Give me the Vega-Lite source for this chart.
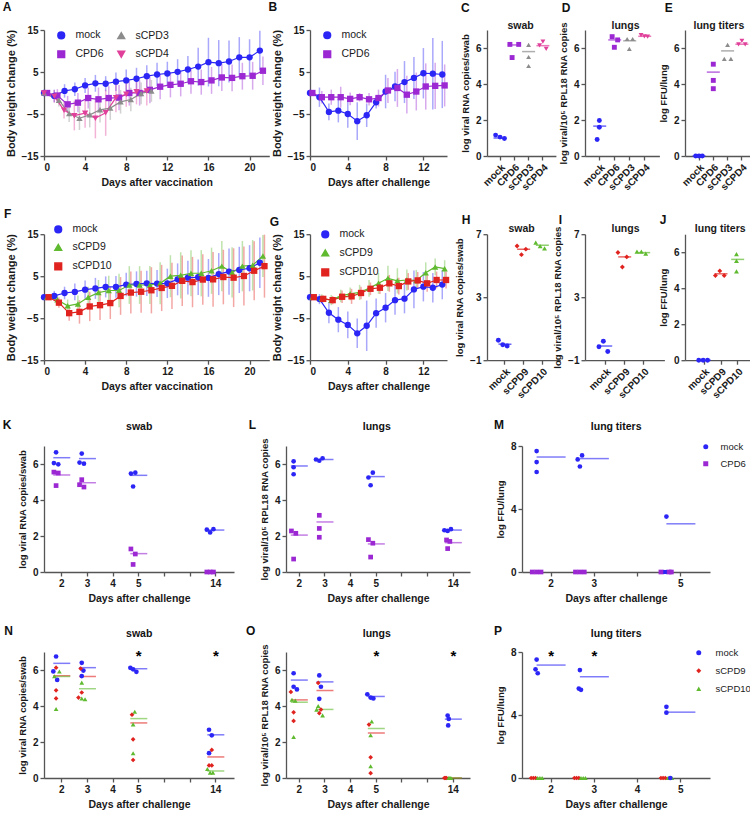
{
"$schema":"https://vega.github.io/schema/vega-lite/v6.json",
"background":"white",
"padding":{"left":2,"top":0,"right":0,"bottom":0},
"config":{
 "font":"Liberation Sans",
 "view":{"stroke":null},
 "axis":{"labelFont":"Liberation Sans","labelFontSize":10,"labelFontWeight":"bold","labelColor":"#1a1a1a","labelOverlap":false,"titleFont":"Liberation Sans","titleFontSize":10.5,"titleFontWeight":"bold","titleColor":"#1a1a1a","domainColor":"#555","domainWidth":1.3,"tickColor":"#555","tickWidth":1.3,"tickSize":4,"grid":false,"labelPadding":2,"titlePadding":5},
 "axisX":{"labelOverlap":false},
 "axisY":{"titleFontSize":9.5,"labelOverlap":false},
 "legend":{"labelFont":"Liberation Sans","labelFontSize":10.5,"labelColor":"#1a1a1a","symbolOpacity":1},
 "title":{"font":"Liberation Sans","fontWeight":"bold","color":"#111","offset":0,"baseline":"alphabetic","fontSize":12,"anchor":"start","frame":"group"}
},
"datasets":{
"ts":[
{"p":"A","g":"mock","d":0,"m":0,"s":0},{"p":"A","g":"mock","d":1,"m":-0.7,"s":1.5},{"p":"A","g":"mock","d":2,"m":0.5,"s":1.6},{"p":"A","g":"mock","d":3,"m":0.9,"s":1.6},{"p":"A","g":"mock","d":4,"m":1.8,"s":1.8},{"p":"A","g":"mock","d":5,"m":2.3,"s":2.0},{"p":"A","g":"mock","d":6,"m":2.2,"s":1.8},{"p":"A","g":"mock","d":7,"m":2.7,"s":2.2},{"p":"A","g":"mock","d":8,"m":3.0,"s":2.6},{"p":"A","g":"mock","d":9,"m":3.4,"s":2.6},{"p":"A","g":"mock","d":10,"m":4.0,"s":2.6},{"p":"A","g":"mock","d":11,"m":4.4,"s":2.8},{"p":"A","g":"mock","d":12,"m":4.65,"s":2.8},{"p":"A","g":"mock","d":13,"m":5.05,"s":3.0},{"p":"A","g":"mock","d":14,"m":5.6,"s":3.2},{"p":"A","g":"mock","d":15,"m":6.3,"s":4.5},{"p":"A","g":"mock","d":16,"m":7.35,"s":5.8},{"p":"A","g":"mock","d":17,"m":7.1,"s":5.5},{"p":"A","g":"mock","d":18,"m":7.5,"s":5.0},{"p":"A","g":"mock","d":19,"m":8.5,"s":4.8},{"p":"A","g":"mock","d":20,"m":8.5,"s":4.3},{"p":"A","g":"mock","d":21,"m":10.1,"s":4.7},
{"p":"A","g":"CPD6","d":0.3,"m":0,"s":0},{"p":"A","g":"CPD6","d":1.3,"m":-0.6,"s":1.5},{"p":"A","g":"CPD6","d":2.3,"m":-2.7,"s":2.0},{"p":"A","g":"CPD6","d":3.3,"m":-2.3,"s":2.3},{"p":"A","g":"CPD6","d":4.3,"m":-1.2,"s":2.5},{"p":"A","g":"CPD6","d":5.3,"m":-1.5,"s":2.8},{"p":"A","g":"CPD6","d":6.3,"m":-1.2,"s":2.8},{"p":"A","g":"CPD6","d":7.3,"m":-1.1,"s":3.0},{"p":"A","g":"CPD6","d":8.3,"m":0,"s":3.0},{"p":"A","g":"CPD6","d":9.3,"m":0,"s":3.0},{"p":"A","g":"CPD6","d":10.3,"m":0.75,"s":3.2},{"p":"A","g":"CPD6","d":11.3,"m":1.5,"s":3.0},{"p":"A","g":"CPD6","d":12.3,"m":1.95,"s":3.0},{"p":"A","g":"CPD6","d":13.3,"m":2.2,"s":3.0},{"p":"A","g":"CPD6","d":14.3,"m":2.8,"s":3.0},{"p":"A","g":"CPD6","d":15.3,"m":2.6,"s":3.0},{"p":"A","g":"CPD6","d":16.3,"m":3.0,"s":3.2},{"p":"A","g":"CPD6","d":17.3,"m":3.7,"s":3.2},{"p":"A","g":"CPD6","d":18.3,"m":3.6,"s":3.2},{"p":"A","g":"CPD6","d":19.3,"m":4.0,"s":3.2},{"p":"A","g":"CPD6","d":20.3,"m":4.1,"s":3.3},{"p":"A","g":"CPD6","d":21.3,"m":5.3,"s":3.4},
{"p":"A","g":"sCPD3","d":0,"m":0,"s":0},{"p":"A","g":"sCPD3","d":1.45,"m":-1.7,"s":1.5},{"p":"A","g":"sCPD3","d":2.45,"m":-4.9,"s":2.0},{"p":"A","g":"sCPD3","d":3.45,"m":-6.0,"s":2.8},{"p":"A","g":"sCPD3","d":4.45,"m":-5.2,"s":3.0},{"p":"A","g":"sCPD3","d":5.45,"m":-4.0,"s":3.0},{"p":"A","g":"sCPD3","d":6.45,"m":-3.6,"s":2.8},{"p":"A","g":"sCPD3","d":7.45,"m":-2.1,"s":2.8},{"p":"A","g":"sCPD3","d":8.45,"m":-1.55,"s":2.8},{"p":"A","g":"sCPD3","d":9.45,"m":-0.1,"s":2.6},{"p":"A","g":"sCPD3","d":10.45,"m":0.5,"s":2.6},
{"p":"A","g":"sCPD4","d":0,"m":0,"s":0},{"p":"A","g":"sCPD4","d":1,"m":-0.8,"s":1.5},{"p":"A","g":"sCPD4","d":1.95,"m":-4.1,"s":2.0},{"p":"A","g":"sCPD4","d":2.95,"m":-5.4,"s":3.5},{"p":"A","g":"sCPD4","d":4,"m":-4.8,"s":3.5},{"p":"A","g":"sCPD4","d":5,"m":-6.0,"s":4.8},{"p":"A","g":"sCPD4","d":6,"m":-4.7,"s":5.5},{"p":"A","g":"sCPD4","d":7,"m":-1.1,"s":3.5},{"p":"A","g":"sCPD4","d":8,"m":-0.3,"s":3.0},{"p":"A","g":"sCPD4","d":9,"m":0.3,"s":3.0},{"p":"A","g":"sCPD4","d":10,"m":0.5,"s":3.5},
{"p":"B","g":"mock","d":0,"m":0,"s":0},{"p":"B","g":"mock","d":1,"m":-1.0,"s":2.3},{"p":"B","g":"mock","d":2,"m":-4.5,"s":2.0},{"p":"B","g":"mock","d":3,"m":-4.2,"s":2.8},{"p":"B","g":"mock","d":4,"m":-5.0,"s":3.3},{"p":"B","g":"mock","d":5,"m":-6.7,"s":4.5},{"p":"B","g":"mock","d":6,"m":-5.3,"s":2.8},{"p":"B","g":"mock","d":7,"m":-2.2,"s":1.5},{"p":"B","g":"mock","d":8,"m":0.35,"s":4.0},{"p":"B","g":"mock","d":9,"m":1.55,"s":3.5},{"p":"B","g":"mock","d":10,"m":2.6,"s":5.0},{"p":"B","g":"mock","d":11,"m":3.6,"s":5.0},{"p":"B","g":"mock","d":12,"m":4.7,"s":6.0},{"p":"B","g":"mock","d":13,"m":4.6,"s":8.5},{"p":"B","g":"mock","d":14,"m":4.4,"s":8.0},
{"p":"B","g":"CPD6","d":0.25,"m":0,"s":0},{"p":"B","g":"CPD6","d":1.25,"m":-1.0,"s":1.5},{"p":"B","g":"CPD6","d":2.25,"m":-1.0,"s":1.8},{"p":"B","g":"CPD6","d":3.25,"m":-1.0,"s":2.5},{"p":"B","g":"CPD6","d":4.25,"m":-1.4,"s":1.5},{"p":"B","g":"CPD6","d":5.25,"m":-1.0,"s":1.0},{"p":"B","g":"CPD6","d":6.25,"m":-1.5,"s":1.5},{"p":"B","g":"CPD6","d":7.25,"m":-1.2,"s":2.0},{"p":"B","g":"CPD6","d":8.25,"m":0.6,"s":3.0},{"p":"B","g":"CPD6","d":9.25,"m":1.2,"s":4.5},{"p":"B","g":"CPD6","d":10.25,"m":-0.4,"s":4.5},{"p":"B","g":"CPD6","d":11.25,"m":0.35,"s":4.5},{"p":"B","g":"CPD6","d":12.25,"m":1.55,"s":5.5},{"p":"B","g":"CPD6","d":13.25,"m":1.7,"s":5.5},{"p":"B","g":"CPD6","d":14.25,"m":1.8,"s":5.0},
{"p":"F","g":"mock","d":0,"m":0,"s":0},{"p":"F","g":"mock","d":1,"m":0.3,"s":1.2},{"p":"F","g":"mock","d":2,"m":1.0,"s":1.5},{"p":"F","g":"mock","d":3,"m":1.25,"s":2.0},{"p":"F","g":"mock","d":4,"m":1.8,"s":2.2},{"p":"F","g":"mock","d":5,"m":2.1,"s":2.5},{"p":"F","g":"mock","d":6,"m":2.45,"s":2.5},{"p":"F","g":"mock","d":7,"m":2.45,"s":2.6},{"p":"F","g":"mock","d":8,"m":3.0,"s":2.8},{"p":"F","g":"mock","d":9,"m":3.15,"s":3.0},{"p":"F","g":"mock","d":10,"m":3.3,"s":3.0},{"p":"F","g":"mock","d":11,"m":3.25,"s":3.2},{"p":"F","g":"mock","d":12,"m":3.3,"s":3.5},{"p":"F","g":"mock","d":13,"m":4.25,"s":3.8},{"p":"F","g":"mock","d":14,"m":4.65,"s":4.0},{"p":"F","g":"mock","d":15,"m":4.75,"s":4.2},{"p":"F","g":"mock","d":16,"m":4.6,"s":4.5},{"p":"F","g":"mock","d":17,"m":5.5,"s":5.0},{"p":"F","g":"mock","d":18,"m":6.1,"s":5.5},{"p":"F","g":"mock","d":19,"m":6.5,"s":5.5},{"p":"F","g":"mock","d":20,"m":6.9,"s":5.5},{"p":"F","g":"mock","d":21,"m":8.2,"s":6.0},
{"p":"F","g":"sCPD9","d":0.3,"m":0,"s":0},{"p":"F","g":"sCPD9","d":1.3,"m":-0.6,"s":1.0},{"p":"F","g":"sCPD9","d":2.3,"m":-2.05,"s":1.5},{"p":"F","g":"sCPD9","d":3.3,"m":-1.6,"s":2.0},{"p":"F","g":"sCPD9","d":4.3,"m":0,"s":2.5},{"p":"F","g":"sCPD9","d":5.3,"m":1.1,"s":3.0},{"p":"F","g":"sCPD9","d":6.3,"m":1.6,"s":3.5},{"p":"F","g":"sCPD9","d":7.3,"m":1.6,"s":4.0},{"p":"F","g":"sCPD9","d":8.3,"m":2.9,"s":4.5},{"p":"F","g":"sCPD9","d":9.3,"m":2.9,"s":4.5},{"p":"F","g":"sCPD9","d":10.3,"m":2.9,"s":4.5},{"p":"F","g":"sCPD9","d":11.3,"m":3.3,"s":5.0},{"p":"F","g":"sCPD9","d":12.3,"m":5.0,"s":5.0},{"p":"F","g":"sCPD9","d":13.3,"m":5.2,"s":5.5},{"p":"F","g":"sCPD9","d":14.3,"m":5.7,"s":5.5},{"p":"F","g":"sCPD9","d":15.3,"m":5.7,"s":5.5},{"p":"F","g":"sCPD9","d":16.3,"m":6.3,"s":5.5},{"p":"F","g":"sCPD9","d":17.3,"m":7.4,"s":6.0},{"p":"F","g":"sCPD9","d":18.3,"m":5.9,"s":6.0},{"p":"F","g":"sCPD9","d":19.3,"m":7.4,"s":6.0},{"p":"F","g":"sCPD9","d":20.3,"m":7.6,"s":6.0},{"p":"F","g":"sCPD9","d":21.3,"m":9.8,"s":5.0},
{"p":"F","g":"sCPD10","d":0.45,"m":0,"s":0},{"p":"F","g":"sCPD10","d":1.45,"m":-1.3,"s":1.2},{"p":"F","g":"sCPD10","d":2.45,"m":-3.8,"s":1.8},{"p":"F","g":"sCPD10","d":3.45,"m":-3.5,"s":2.8},{"p":"F","g":"sCPD10","d":4.45,"m":-2.2,"s":3.5},{"p":"F","g":"sCPD10","d":5.45,"m":-1.9,"s":3.5},{"p":"F","g":"sCPD10","d":6.45,"m":-1.4,"s":3.8},{"p":"F","g":"sCPD10","d":7.45,"m":0.3,"s":4.5},{"p":"F","g":"sCPD10","d":8.45,"m":1.1,"s":5.0},{"p":"F","g":"sCPD10","d":9.45,"m":1.3,"s":5.0},{"p":"F","g":"sCPD10","d":10.45,"m":1.65,"s":5.5},{"p":"F","g":"sCPD10","d":11.45,"m":2.2,"s":5.5},{"p":"F","g":"sCPD10","d":12.45,"m":2.7,"s":5.5},{"p":"F","g":"sCPD10","d":13.45,"m":3.9,"s":6.0},{"p":"F","g":"sCPD10","d":14.45,"m":3.6,"s":6.0},{"p":"F","g":"sCPD10","d":15.45,"m":4.2,"s":6.0},{"p":"F","g":"sCPD10","d":16.45,"m":4.25,"s":6.5},{"p":"F","g":"sCPD10","d":17.45,"m":4.8,"s":6.5},{"p":"F","g":"sCPD10","d":18.45,"m":4.65,"s":7.0},{"p":"F","g":"sCPD10","d":19.45,"m":5.05,"s":7.0},{"p":"F","g":"sCPD10","d":20.45,"m":6.3,"s":7.0},{"p":"F","g":"sCPD10","d":21.45,"m":7.4,"s":7.5},
{"p":"G","g":"mock","d":0,"m":0,"s":0},{"p":"G","g":"mock","d":1,"m":-0.45,"s":1.2},{"p":"G","g":"mock","d":2,"m":-3.7,"s":2.5},{"p":"G","g":"mock","d":3,"m":-5.35,"s":3.0},{"p":"G","g":"mock","d":4,"m":-6.6,"s":3.2},{"p":"G","g":"mock","d":5,"m":-8.6,"s":3.5},{"p":"G","g":"mock","d":6,"m":-6.8,"s":6.0},{"p":"G","g":"mock","d":7,"m":-3.8,"s":3.5},{"p":"G","g":"mock","d":8,"m":-2.5,"s":3.5},{"p":"G","g":"mock","d":9,"m":-0.7,"s":3.5},{"p":"G","g":"mock","d":10,"m":-0.35,"s":3.5},{"p":"G","g":"mock","d":11,"m":1.85,"s":4.5},{"p":"G","g":"mock","d":12,"m":2.5,"s":3.5},{"p":"G","g":"mock","d":13,"m":2.25,"s":3.5},{"p":"G","g":"mock","d":14,"m":3.0,"s":3.5},
{"p":"G","g":"sCPD9","d":0.25,"m":0,"s":0},{"p":"G","g":"sCPD9","d":1.25,"m":-0.3,"s":1.0},{"p":"G","g":"sCPD9","d":2.25,"m":-0.7,"s":1.2},{"p":"G","g":"sCPD9","d":3.25,"m":0.3,"s":1.5},{"p":"G","g":"sCPD9","d":4.25,"m":0.8,"s":1.5},{"p":"G","g":"sCPD9","d":5.25,"m":1.15,"s":1.8},{"p":"G","g":"sCPD9","d":6.25,"m":2.1,"s":2.0},{"p":"G","g":"sCPD9","d":7.25,"m":3.3,"s":2.5},{"p":"G","g":"sCPD9","d":8.25,"m":4.5,"s":3.0},{"p":"G","g":"sCPD9","d":9.25,"m":3.9,"s":3.0},{"p":"G","g":"sCPD9","d":10.25,"m":4.1,"s":2.5},{"p":"G","g":"sCPD9","d":11.25,"m":4.0,"s":2.5},{"p":"G","g":"sCPD9","d":12.25,"m":5.8,"s":2.5},{"p":"G","g":"sCPD9","d":13.25,"m":7.2,"s":2.0},{"p":"G","g":"sCPD9","d":14.25,"m":6.8,"s":2.0},
{"p":"G","g":"sCPD10","d":0.4,"m":0,"s":0},{"p":"G","g":"sCPD10","d":1.4,"m":-0.4,"s":0.8},{"p":"G","g":"sCPD10","d":2.4,"m":-0.7,"s":1.0},{"p":"G","g":"sCPD10","d":3.4,"m":0.1,"s":1.5},{"p":"G","g":"sCPD10","d":4.4,"m":0.2,"s":1.8},{"p":"G","g":"sCPD10","d":5.4,"m":1.0,"s":1.5},{"p":"G","g":"sCPD10","d":6.4,"m":2.0,"s":1.5},{"p":"G","g":"sCPD10","d":7.4,"m":2.25,"s":1.5},{"p":"G","g":"sCPD10","d":8.4,"m":3.3,"s":2.0},{"p":"G","g":"sCPD10","d":9.4,"m":2.65,"s":2.0},{"p":"G","g":"sCPD10","d":10.4,"m":3.75,"s":2.0},{"p":"G","g":"sCPD10","d":11.4,"m":4.0,"s":2.0},{"p":"G","g":"sCPD10","d":12.4,"m":3.3,"s":2.0},{"p":"G","g":"sCPD10","d":13.4,"m":4.1,"s":2.0},{"p":"G","g":"sCPD10","d":14.4,"m":4.1,"s":2.0}
],
"pts":[
{"p":"C","c":"mock","g":"mock","r":-8,"v":1.16},{"p":"C","c":"mock","g":"mock","r":0,"v":1.05},{"p":"C","c":"mock","g":"mock","r":8,"v":0.97},
{"p":"C","c":"CPD6","g":"CPD6","r":-8,"v":6.2},{"p":"C","c":"CPD6","g":"CPD6","r":8,"v":6.2},{"p":"C","c":"CPD6","g":"CPD6","r":-4,"v":5.47},
{"p":"C","c":"sCPD3","g":"sCPD3","r":0,"v":6.17},{"p":"C","c":"sCPD3","g":"sCPD3","r":0,"v":5.5},{"p":"C","c":"sCPD3","g":"sCPD3","r":0,"v":5.0},
{"p":"C","c":"sCPD4","g":"sCPD4","r":0,"v":6.35},{"p":"C","c":"sCPD4","g":"sCPD4","r":-6,"v":6.15},{"p":"C","c":"sCPD4","g":"sCPD4","r":6,"v":5.95},
{"p":"D","c":"mock","g":"mock","r":0,"v":1.97},{"p":"D","c":"mock","g":"mock","r":0,"v":1.6},{"p":"D","c":"mock","g":"mock","r":-4,"v":0.92},
{"p":"D","c":"CPD6","g":"CPD6","r":-4,"v":6.63},{"p":"D","c":"CPD6","g":"CPD6","r":0,"v":6.04},{"p":"D","c":"CPD6","g":"CPD6","r":6,"v":6.45},
{"p":"D","c":"sCPD3","g":"sCPD3","r":-4,"v":6.5},{"p":"D","c":"sCPD3","g":"sCPD3","r":6,"v":6.5},{"p":"D","c":"sCPD3","g":"sCPD3","r":0,"v":5.95},
{"p":"D","c":"sCPD4","g":"sCPD4","r":-6,"v":6.72},{"p":"D","c":"sCPD4","g":"sCPD4","r":0,"v":6.65},{"p":"D","c":"sCPD4","g":"sCPD4","r":6,"v":6.63},
{"p":"E","c":"mock","g":"mock","r":-6,"v":0},{"p":"E","c":"mock","g":"mock","r":0,"v":0},{"p":"E","c":"mock","g":"mock","r":6,"v":0},
{"p":"E","c":"CPD6","g":"CPD6","r":0,"v":5.1},{"p":"E","c":"CPD6","g":"CPD6","r":0,"v":4.2},{"p":"E","c":"CPD6","g":"CPD6","r":0,"v":3.74},
{"p":"E","c":"sCPD3","g":"sCPD3","r":0,"v":6.17},{"p":"E","c":"sCPD3","g":"sCPD3","r":-6,"v":5.4},{"p":"E","c":"sCPD3","g":"sCPD3","r":6,"v":5.4},
{"p":"E","c":"sCPD4","g":"sCPD4","r":0,"v":6.4},{"p":"E","c":"sCPD4","g":"sCPD4","r":-6,"v":6.2},{"p":"E","c":"sCPD4","g":"sCPD4","r":6,"v":6.2},
{"p":"H","c":"mock","g":"mock","r":-8,"v":0.27},{"p":"H","c":"mock","g":"mock","r":0,"v":-0.02},{"p":"H","c":"mock","g":"mock","r":8,"v":-0.1},
{"p":"H","c":"sCPD9","g":"sCPD9","r":-8,"v":6.25},{"p":"H","c":"sCPD9","g":"sCPD9","r":0,"v":5.7},{"p":"H","c":"sCPD9","g":"sCPD9","r":8,"v":6.05},
{"p":"H","c":"sCPD10","g":"sCPD10","r":-8,"v":6.47},{"p":"H","c":"sCPD10","g":"sCPD10","r":0,"v":6.25},{"p":"H","c":"sCPD10","g":"sCPD10","r":8,"v":6.1},
{"p":"I","c":"mock","g":"mock","r":-8,"v":-0.15},{"p":"I","c":"mock","g":"mock","r":0,"v":0.2},{"p":"I","c":"mock","g":"mock","r":8,"v":-0.45},
{"p":"I","c":"sCPD9","g":"sCPD9","r":-8,"v":5.84},{"p":"I","c":"sCPD9","g":"sCPD9","r":0,"v":4.92},{"p":"I","c":"sCPD9","g":"sCPD9","r":8,"v":5.56},
{"p":"I","c":"sCPD10","g":"sCPD10","r":-8,"v":5.9},{"p":"I","c":"sCPD10","g":"sCPD10","r":0,"v":5.9},{"p":"I","c":"sCPD10","g":"sCPD10","r":8,"v":5.77},
{"p":"J","c":"mock","g":"mock","r":-8,"v":0},{"p":"J","c":"mock","g":"mock","r":0,"v":0},{"p":"J","c":"mock","g":"mock","r":8,"v":0},
{"p":"J","c":"sCPD9","g":"sCPD9","r":0,"v":4.96},{"p":"J","c":"sCPD9","g":"sCPD9","r":-8,"v":4.7},{"p":"J","c":"sCPD9","g":"sCPD9","r":8,"v":4.7},
{"p":"J","c":"sCPD10","g":"sCPD10","r":0,"v":5.89},{"p":"J","c":"sCPD10","g":"sCPD10","r":0,"v":5.52},{"p":"J","c":"sCPD10","g":"sCPD10","r":0,"v":4.93},
{"p":"K","c":"2","g":"mock","r":0,"v":6.65},{"p":"K","c":"2","g":"mock","r":-4,"v":6.05},{"p":"K","c":"2","g":"mock","r":4,"v":5.98},
{"p":"K","c":"2","g":"CPD6","r":-4,"v":5.55},{"p":"K","c":"2","g":"CPD6","r":4,"v":5.5},{"p":"K","c":"2","g":"CPD6","r":0,"v":4.8},
{"p":"K","c":"3","g":"mock","r":0,"v":6.58},{"p":"K","c":"3","g":"mock","r":-4,"v":6.08},{"p":"K","c":"3","g":"mock","r":4,"v":6.02},
{"p":"K","c":"3","g":"CPD6","r":0,"v":5.13},{"p":"K","c":"3","g":"CPD6","r":-4,"v":4.85},{"p":"K","c":"3","g":"CPD6","r":4,"v":4.72},
{"p":"K","c":"5","g":"mock","r":-4,"v":5.47},{"p":"K","c":"5","g":"mock","r":4,"v":5.52},{"p":"K","c":"5","g":"mock","r":0,"v":4.75},
{"p":"K","c":"5","g":"CPD6","r":-4,"v":1.28},{"p":"K","c":"5","g":"CPD6","r":4,"v":1.0},{"p":"K","c":"5","g":"CPD6","r":0,"v":0.42},
{"p":"K","c":"14","g":"mock","r":-6,"v":2.35},{"p":"K","c":"14","g":"mock","r":0,"v":2.2},{"p":"K","c":"14","g":"mock","r":6,"v":2.38},
{"p":"K","c":"14","g":"CPD6","r":-6,"v":0},{"p":"K","c":"14","g":"CPD6","r":0,"v":0},{"p":"K","c":"14","g":"CPD6","r":6,"v":0},
{"p":"L","c":"2","g":"mock","r":0,"v":6.15},{"p":"L","c":"2","g":"mock","r":0,"v":5.82},{"p":"L","c":"2","g":"mock","r":0,"v":5.43},
{"p":"L","c":"2","g":"CPD6","r":-4,"v":2.28},{"p":"L","c":"2","g":"CPD6","r":4,"v":2.15},{"p":"L","c":"2","g":"CPD6","r":0,"v":0.72},
{"p":"L","c":"3","g":"mock","r":-6,"v":6.25},{"p":"L","c":"3","g":"mock","r":0,"v":6.18},{"p":"L","c":"3","g":"mock","r":6,"v":6.32},
{"p":"L","c":"3","g":"CPD6","r":0,"v":3.15},{"p":"L","c":"3","g":"CPD6","r":0,"v":2.42},{"p":"L","c":"3","g":"CPD6","r":0,"v":1.93},
{"p":"L","c":"5","g":"mock","r":-4,"v":5.25},{"p":"L","c":"5","g":"mock","r":4,"v":5.52},{"p":"L","c":"5","g":"mock","r":0,"v":4.82},
{"p":"L","c":"5","g":"CPD6","r":-4,"v":1.8},{"p":"L","c":"5","g":"CPD6","r":4,"v":1.6},{"p":"L","c":"5","g":"CPD6","r":0,"v":0.83},
{"p":"L","c":"14","g":"mock","r":-6,"v":2.32},{"p":"L","c":"14","g":"mock","r":0,"v":2.28},{"p":"L","c":"14","g":"mock","r":6,"v":2.38},
{"p":"L","c":"14","g":"CPD6","r":-2,"v":1.78},{"p":"L","c":"14","g":"CPD6","r":4,"v":1.7},{"p":"L","c":"14","g":"CPD6","r":0,"v":1.3},
{"p":"M","c":"2","g":"mock","r":0,"v":7.68},{"p":"M","c":"2","g":"mock","r":0,"v":6.98},{"p":"M","c":"2","g":"mock","r":0,"v":6.35},
{"p":"M","c":"2","g":"CPD6","r":-8,"v":0},{"p":"M","c":"2","g":"CPD6","r":0,"v":0},{"p":"M","c":"2","g":"CPD6","r":8,"v":0},
{"p":"M","c":"3","g":"mock","r":-4,"v":7.15},{"p":"M","c":"3","g":"mock","r":0,"v":6.7},{"p":"M","c":"3","g":"mock","r":4,"v":7.4},
{"p":"M","c":"3","g":"CPD6","r":-8,"v":0},{"p":"M","c":"3","g":"CPD6","r":0,"v":0},{"p":"M","c":"3","g":"CPD6","r":8,"v":0},
{"p":"M","c":"5","g":"mock","r":0,"v":3.52},{"p":"M","c":"5","g":"mock","r":-5,"v":0},{"p":"M","c":"5","g":"mock","r":0,"v":0},
{"p":"M","c":"5","g":"CPD6","r":-10,"v":0},{"p":"M","c":"5","g":"CPD6","r":5,"v":0},{"p":"M","c":"5","g":"CPD6","r":9,"v":0},
{"p":"N","c":"2","g":"mock","r":0,"v":6.75},{"p":"N","c":"2","g":"mock","r":-5,"v":5.92},{"p":"N","c":"2","g":"mock","r":2,"v":5.45},
{"p":"N","c":"2","g":"sCPD9","r":0,"v":6.13},{"p":"N","c":"2","g":"sCPD9","r":0,"v":4.87},{"p":"N","c":"2","g":"sCPD9","r":0,"v":4.42},
{"p":"N","c":"2","g":"sCPD10","r":6,"v":5.92},{"p":"N","c":"2","g":"sCPD10","r":-3,"v":5.65},{"p":"N","c":"2","g":"sCPD10","r":0,"v":3.83},
{"p":"N","c":"3","g":"mock","r":0,"v":6.4},{"p":"N","c":"3","g":"mock","r":3,"v":5.97},{"p":"N","c":"3","g":"mock","r":0,"v":5.66},
{"p":"N","c":"3","g":"sCPD9","r":-2,"v":6.08},{"p":"N","c":"3","g":"sCPD9","r":0,"v":4.75},{"p":"N","c":"3","g":"sCPD9","r":-6,"v":4.47},
{"p":"N","c":"3","g":"sCPD10","r":0,"v":5.3},{"p":"N","c":"3","g":"sCPD10","r":0,"v":4.42},{"p":"N","c":"3","g":"sCPD10","r":6,"v":4.37},
{"p":"N","c":"5","g":"mock","r":-5,"v":6.12},{"p":"N","c":"5","g":"mock","r":0,"v":6.04},{"p":"N","c":"5","g":"mock","r":6,"v":5.9},
{"p":"N","c":"5","g":"sCPD9","r":-2,"v":3.52},{"p":"N","c":"5","g":"sCPD9","r":0,"v":2.15},{"p":"N","c":"5","g":"sCPD9","r":0,"v":1.0},
{"p":"N","c":"5","g":"sCPD10","r":3,"v":3.68},{"p":"N","c":"5","g":"sCPD10","r":0,"v":2.98},{"p":"N","c":"5","g":"sCPD10","r":0,"v":1.37},
{"p":"N","c":"14","g":"mock","r":-2,"v":2.68},{"p":"N","c":"14","g":"mock","r":3,"v":2.37},{"p":"N","c":"14","g":"mock","r":-2,"v":1.38},
{"p":"N","c":"14","g":"sCPD9","r":3,"v":1.56},{"p":"N","c":"14","g":"sCPD9","r":-2,"v":0.7},{"p":"N","c":"14","g":"sCPD9","r":3,"v":0.7},
{"p":"N","c":"14","g":"sCPD10","r":-5,"v":0.5},{"p":"N","c":"14","g":"sCPD10","r":0,"v":0.3},{"p":"N","c":"14","g":"sCPD10","r":5,"v":0.3},
{"p":"O","c":"2","g":"mock","r":0,"v":5.82},{"p":"O","c":"2","g":"mock","r":0,"v":5.07},{"p":"O","c":"2","g":"mock","r":6,"v":4.92},
{"p":"O","c":"2","g":"sCPD9","r":-5,"v":4.78},{"p":"O","c":"2","g":"sCPD9","r":0,"v":3.65},{"p":"O","c":"2","g":"sCPD9","r":0,"v":3.17},
{"p":"O","c":"2","g":"sCPD10","r":-3,"v":4.35},{"p":"O","c":"2","g":"sCPD10","r":3,"v":4.3},{"p":"O","c":"2","g":"sCPD10","r":0,"v":2.28},
{"p":"O","c":"3","g":"mock","r":0,"v":5.7},{"p":"O","c":"3","g":"mock","r":3,"v":5.07},{"p":"O","c":"3","g":"mock","r":0,"v":4.4},
{"p":"O","c":"3","g":"sCPD9","r":-2,"v":5.28},{"p":"O","c":"3","g":"sCPD9","r":3,"v":3.8},{"p":"O","c":"3","g":"sCPD9","r":0,"v":3.6},
{"p":"O","c":"3","g":"sCPD10","r":-2,"v":4.0},{"p":"O","c":"3","g":"sCPD10","r":-5,"v":3.8},{"p":"O","c":"3","g":"sCPD10","r":6,"v":3.48},
{"p":"O","c":"5","g":"mock","r":-6,"v":4.65},{"p":"O","c":"5","g":"mock","r":0,"v":4.47},{"p":"O","c":"5","g":"mock","r":5,"v":4.42},
{"p":"O","c":"5","g":"sCPD9","r":-3,"v":2.97},{"p":"O","c":"5","g":"sCPD9","r":0,"v":1.15},{"p":"O","c":"5","g":"sCPD9","r":0,"v":0.27},
{"p":"O","c":"5","g":"sCPD10","r":2,"v":3.14},{"p":"O","c":"5","g":"sCPD10","r":0,"v":2.38},{"p":"O","c":"5","g":"sCPD10","r":0,"v":0.65},
{"p":"O","c":"14","g":"mock","r":0,"v":3.47},{"p":"O","c":"14","g":"mock","r":2,"v":3.28},{"p":"O","c":"14","g":"mock","r":1,"v":2.92},
{"p":"O","c":"14","g":"sCPD9","r":-6,"v":0},{"p":"O","c":"14","g":"sCPD9","r":-4,"v":0},{"p":"O","c":"14","g":"sCPD9","r":-2,"v":0},
{"p":"O","c":"14","g":"sCPD10","r":2,"v":0},{"p":"O","c":"14","g":"sCPD10","r":4,"v":0},{"p":"O","c":"14","g":"sCPD10","r":6,"v":0},
{"p":"P","c":"2","g":"mock","r":0,"v":7.52},{"p":"P","c":"2","g":"mock","r":-2,"v":6.9},{"p":"P","c":"2","g":"mock","r":2,"v":6.65},
{"p":"P","c":"2","g":"sCPD9","r":-10,"v":0},{"p":"P","c":"2","g":"sCPD9","r":-6,"v":0},{"p":"P","c":"2","g":"sCPD9","r":-2,"v":0},
{"p":"P","c":"2","g":"sCPD10","r":2,"v":0},{"p":"P","c":"2","g":"sCPD10","r":6,"v":0},{"p":"P","c":"2","g":"sCPD10","r":10,"v":0},
{"p":"P","c":"3","g":"mock","r":0,"v":6.85},{"p":"P","c":"3","g":"mock","r":-2,"v":5.68},{"p":"P","c":"3","g":"mock","r":2,"v":5.6},
{"p":"P","c":"3","g":"sCPD9","r":-10,"v":0},{"p":"P","c":"3","g":"sCPD9","r":-6,"v":0},{"p":"P","c":"3","g":"sCPD9","r":-2,"v":0},
{"p":"P","c":"3","g":"sCPD10","r":2,"v":0},{"p":"P","c":"3","g":"sCPD10","r":6,"v":0},{"p":"P","c":"3","g":"sCPD10","r":10,"v":0},
{"p":"P","c":"5","g":"sCPD9","r":-10,"v":0},{"p":"P","c":"5","g":"sCPD9","r":-6,"v":0},{"p":"P","c":"5","g":"sCPD9","r":-2,"v":0},
{"p":"P","c":"5","g":"sCPD10","r":3,"v":0},{"p":"P","c":"5","g":"sCPD10","r":7,"v":0},{"p":"P","c":"5","g":"sCPD10","r":10,"v":0},
{"p":"P","c":"5","g":"mock","r":0,"v":4.52},{"p":"P","c":"5","g":"mock","r":0,"v":4.15},{"p":"P","c":"5","g":"mock","r":7,"v":0}
],
"mn":[
{"p":"C","c":"mock","g":"mock","v":1.0},{"p":"C","c":"CPD6","g":"CPD6","v":6.17},{"p":"C","c":"sCPD3","g":"sCPD3","v":5.8},{"p":"C","c":"sCPD4","g":"sCPD4","v":6.13},
{"p":"D","c":"mock","g":"mock","v":1.66},{"p":"D","c":"CPD6","g":"CPD6","v":6.45},{"p":"D","c":"sCPD3","g":"sCPD3","v":6.4},{"p":"D","c":"sCPD4","g":"sCPD4","v":6.65},
{"p":"E","c":"mock","g":"mock","v":0},{"p":"E","c":"CPD6","g":"CPD6","v":4.66},{"p":"E","c":"sCPD3","g":"sCPD3","v":5.84},{"p":"E","c":"sCPD4","g":"sCPD4","v":6.21},
{"p":"H","c":"mock","g":"mock","v":0.02},{"p":"H","c":"sCPD9","g":"sCPD9","v":6.05},{"p":"H","c":"sCPD10","g":"sCPD10","v":6.3},
{"p":"I","c":"mock","g":"mock","v":-0.1},{"p":"I","c":"sCPD9","g":"sCPD9","v":5.56},{"p":"I","c":"sCPD10","g":"sCPD10","v":5.83},
{"p":"J","c":"mock","g":"mock","v":0},{"p":"J","c":"sCPD9","g":"sCPD9","v":4.8},{"p":"J","c":"sCPD10","g":"sCPD10","v":5.6},
{"p":"K","c":"2","g":"mock","v":6.35},{"p":"K","c":"2","g":"CPD6","v":5.39},{"p":"K","c":"3","g":"mock","v":6.3},{"p":"K","c":"3","g":"CPD6","v":4.96},{"p":"K","c":"5","g":"mock","v":5.37},{"p":"K","c":"5","g":"CPD6","v":1.02},{"p":"K","c":"14","g":"mock","v":2.33},
{"p":"L","c":"2","g":"mock","v":5.89},{"p":"L","c":"2","g":"CPD6","v":2.05},{"p":"L","c":"3","g":"mock","v":6.25},{"p":"L","c":"3","g":"CPD6","v":2.78},{"p":"L","c":"5","g":"mock","v":5.3},{"p":"L","c":"5","g":"CPD6","v":1.56},{"p":"L","c":"14","g":"mock","v":2.33},{"p":"L","c":"14","g":"CPD6","v":1.63},
{"p":"M","c":"2","g":"mock","v":7.3},{"p":"M","c":"3","g":"mock","v":7.2},{"p":"M","c":"5","g":"mock","v":3.06},
{"p":"N","c":"2","g":"mock","v":6.37},{"p":"N","c":"2","g":"sCPD9","v":5.68},{"p":"N","c":"2","g":"sCPD10","v":5.64},{"p":"N","c":"3","g":"mock","v":6.13},{"p":"N","c":"3","g":"sCPD9","v":5.64},{"p":"N","c":"3","g":"sCPD10","v":4.96},{"p":"N","c":"5","g":"mock","v":6.07},{"p":"N","c":"5","g":"sCPD9","v":3.06},{"p":"N","c":"5","g":"sCPD10","v":3.3},{"p":"N","c":"14","g":"mock","v":2.4},{"p":"N","c":"14","g":"sCPD9","v":1.17},{"p":"N","c":"14","g":"sCPD10","v":0.39},
{"p":"O","c":"2","g":"mock","v":5.44},{"p":"O","c":"2","g":"sCPD9","v":4.34},{"p":"O","c":"2","g":"sCPD10","v":4.21},{"p":"O","c":"3","g":"mock","v":5.34},{"p":"O","c":"3","g":"sCPD9","v":4.86},{"p":"O","c":"3","g":"sCPD10","v":3.81},{"p":"O","c":"5","g":"mock","v":4.53},{"p":"O","c":"5","g":"sCPD9","v":2.5},{"p":"O","c":"5","g":"sCPD10","v":2.75},{"p":"O","c":"14","g":"mock","v":3.27},{"p":"O","c":"14","g":"sCPD9","v":0},{"p":"O","c":"14","g":"sCPD10","v":0},
{"p":"P","c":"2","g":"mock","v":7.17},{"p":"P","c":"3","g":"mock","v":6.43},{"p":"P","c":"5","g":"mock","v":4.18}
],
"ast":[
{"p":"N","c":"5","v":7,"t":"*"},{"p":"N","c":"14","v":7,"t":"*"},{"p":"O","c":"5","v":7,"t":"*"},{"p":"O","c":"14","v":7,"t":"*"},{"p":"P","c":"2","v":8,"t":"*"},{"p":"P","c":"3","v":8,"t":"*"}
],
"sub":[
{"p":"K","t":"swab"},{"p":"L","t":"lungs"},{"p":"M","t":"lung titers"},{"p":"N","t":"swab"},{"p":"O","t":"lungs"},{"p":"P","t":"lung titers"}
]
},
"spacing":18,
"resolve":{"scale":{"color":"independent","shape":"independent"}},
"vconcat":[
{"bounds":"flush","columns":5,"spacing":{"row":78.2,"column":40},"resolve":{"scale":{"color":"independent","shape":"independent"}},
"concat":[
{"width":225.3,"height":126,"data":{"name":"ts"},"transform":[{"filter":"datum.p==='A'"}],
 "title":{"text":"A","dx":-41.3,"offset":10.7},
 "layer":[
  {"mark":{"type":"errorbar","ticks":false,"thickness":1.5,"opacity":0.4},"encoding":{"x":{"field":"d","type":"quantitative","scale":{"domain":[0,21.92],"nice":false},"axis":{"title":"Days after vaccination","values":[0,2,4,6,8,10,12,14,16,18,20],"labelOverlap":false}},"y":{"field":"m","type":"quantitative","scale":{"domain":[-15,15],"nice":false},"axis":{"title":"Body weight change (%)","titleFontSize":11,"values":[-15,-10,-5,0,5,10,15],"labelOverlap":false}},"yError":{"field":"s"},"color":{"field":"g","type":"nominal","scale":{"domain":["mock","sCPD3","CPD6","sCPD4"],"range":["#2b25f5","#8c8c8c","#9b28d2","#e0409a"]},"legend":{"title":null,"orient":"none","legendX":12,"legendY":0,"columns":2,"values":["mock","CPD6","sCPD3","sCPD4"],"symbolSize":45,"labelOffset":9,"rowPadding":5,"columnPadding":10}}}},
  {"mark":{"type":"line","strokeWidth":1.2},"encoding":{"x":{"field":"d","type":"quantitative"},"y":{"field":"m","type":"quantitative"},"color":{"field":"g","type":"nominal","legend":{"title":null,"orient":"none","legendX":12,"legendY":0,"columns":2,"values":["mock","CPD6","sCPD3","sCPD4"],"symbolSize":45,"labelOffset":9,"rowPadding":5,"columnPadding":10}}}},
  {"mark":{"type":"point","filled":true,"size":40,"opacity":1},"encoding":{"x":{"field":"d","type":"quantitative"},"y":{"field":"m","type":"quantitative"},
    "color":{"field":"g","type":"nominal","legend":{"title":null,"orient":"none","legendX":12,"legendY":0,"columns":2,"values":["mock","CPD6","sCPD3","sCPD4"],"symbolSize":45,"labelOffset":9,"rowPadding":5,"columnPadding":10}},
    "shape":{"field":"g","type":"nominal","scale":{"domain":["mock","sCPD3","CPD6","sCPD4"],"range":["circle","triangle-up","square","triangle-down"]},"legend":{"title":null,"orient":"none","legendX":12,"legendY":0,"columns":2,"values":["mock","CPD6","sCPD3","sCPD4"],"symbolSize":45,"labelOffset":9,"rowPadding":5,"columnPadding":10}}}}
 ]},
{"width":137,"height":126,"data":{"name":"ts"},"transform":[{"filter":"datum.p==='B'"}],
 "title":{"text":"B","dx":-41.6,"offset":11.1},
 "layer":[
  {"mark":{"type":"errorbar","ticks":false,"thickness":1.5,"opacity":0.4},"encoding":{"x":{"field":"d","type":"quantitative","scale":{"domain":[0,14.5],"nice":false},"axis":{"title":"Days after challenge","values":[0,2,4,6,8,10,12,14],"labelOverlap":false}},"y":{"field":"m","type":"quantitative","scale":{"domain":[-15,15],"nice":false},"axis":{"title":"Body weight change (%)","titleFontSize":11,"values":[-15,-10,-5,0,5,10,15],"labelOverlap":false}},"yError":{"field":"s"},"color":{"field":"g","type":"nominal","scale":{"domain":["mock","CPD6"],"range":["#2b25f5","#9b28d2"]},"legend":{"title":null,"orient":"none","legendX":12,"legendY":0,"symbolSize":45,"labelOffset":9,"rowPadding":5}}}},
  {"mark":{"type":"line","strokeWidth":1.2},"encoding":{"x":{"field":"d","type":"quantitative"},"y":{"field":"m","type":"quantitative"},"color":{"field":"g","type":"nominal","legend":{"title":null,"orient":"none","legendX":12,"legendY":0,"symbolSize":45,"labelOffset":9,"rowPadding":5}}}},
  {"mark":{"type":"point","filled":true,"size":40,"opacity":1},"encoding":{"x":{"field":"d","type":"quantitative"},"y":{"field":"m","type":"quantitative"},
    "color":{"field":"g","type":"nominal","legend":{"title":null,"orient":"none","legendX":12,"legendY":0,"symbolSize":45,"labelOffset":9,"rowPadding":5}},
    "shape":{"field":"g","type":"nominal","scale":{"domain":["mock","CPD6"],"range":["circle","square"]},"legend":{"title":null,"orient":"none","legendX":12,"legendY":0,"symbolSize":45,"labelOffset":9,"rowPadding":5}}}}
 ]},
{"width":58,"height":126,"title":{"text":"C","dx":-26,"dy":-1.4},
 "layer":[
  {"data":{"name":"mn"},"transform":[{"filter":"datum.p==='C'"}],"mark":{"type":"tick","thickness":1.5},"encoding":{"x":{"field":"c","type":"nominal","scale":{"type":"band","domain":["mock","CPD6","sCPD3","sCPD4"],"range":[0,68.9],"paddingInner":0,"paddingOuter":0.41},"axis":{"title":"swab","titleX":33,"titleY":-127.6,"titleAlign":"center","titleBaseline":"alphabetic","titleAnchor":"start","titleFontSize":10.5,"labelAngle":-45}},"y":{"field":"v","type":"quantitative","scale":{"domain":[0,7],"nice":false},"axis":{"title":"log viral RNA copies/swab","values":[0,1,2,3,4,5,6,7],"labelOverlap":false}},"color":{"field":"g","type":"nominal","scale":{"domain":["mock","CPD6","sCPD3","sCPD4"],"range":["#2b25f5","#9b28d2","#8c8c8c","#e0409a"]},"legend":null},"size":{"value":13}}},
  {"data":{"name":"pts"},"transform":[{"filter":"datum.p==='C'"}],"mark":{"type":"point","filled":true,"size":24,"opacity":1},"encoding":{"x":{"field":"c","type":"nominal"},"xOffset":{"field":"r","type":"ordinal","scale":{"type":"point","domain":[-12,-11,-10,-9,-8,-7,-6,-5,-4,-3,-2,-1,0,1,2,3,4,5,6,7,8,9,10,11,12],"padding":2}},"y":{"field":"v","type":"quantitative"},"color":{"field":"g","type":"nominal","legend":null},"shape":{"field":"g","type":"nominal","scale":{"domain":["mock","CPD6","sCPD3","sCPD4"],"range":["circle","square","triangle-up","triangle-down"]},"legend":null}}}
 ]},
{"width":60,"height":126,"title":{"text":"D","dx":-23.3,"dy":-1.4},
 "layer":[
  {"data":{"name":"mn"},"transform":[{"filter":"datum.p==='D'"}],"mark":{"type":"tick","thickness":1.5},"encoding":{"x":{"field":"c","type":"nominal","scale":{"type":"band","domain":["mock","CPD6","sCPD3","sCPD4"],"range":[0,74.4],"paddingInner":0,"paddingOuter":0.48},"axis":{"title":"lungs","titleX":40,"titleY":-127.6,"titleAlign":"center","titleBaseline":"alphabetic","titleAnchor":"start","titleFontSize":10.5,"labelAngle":-45}},"y":{"field":"v","type":"quantitative","scale":{"domain":[0,7],"nice":false},"axis":{"title":"log viral/10⁵ RPL18 RNA copies","values":[0,1,2,3,4,5,6,7],"labelOverlap":false}},"color":{"field":"g","type":"nominal","scale":{"domain":["mock","CPD6","sCPD3","sCPD4"],"range":["#2b25f5","#9b28d2","#8c8c8c","#e0409a"]},"legend":null},"size":{"value":13}}},
  {"data":{"name":"pts"},"transform":[{"filter":"datum.p==='D'"}],"mark":{"type":"point","filled":true,"size":24,"opacity":1},"encoding":{"x":{"field":"c","type":"nominal"},"xOffset":{"field":"r","type":"ordinal","scale":{"type":"point","domain":[-12,-11,-10,-9,-8,-7,-6,-5,-4,-3,-2,-1,0,1,2,3,4,5,6,7,8,9,10,11,12],"padding":2}},"y":{"field":"v","type":"quantitative"},"color":{"field":"g","type":"nominal","legend":null},"shape":{"field":"g","type":"nominal","scale":{"domain":["mock","CPD6","sCPD3","sCPD4"],"range":["circle","square","triangle-up","triangle-down"]},"legend":null}}}
 ]},
{"width":64,"height":126,"title":{"text":"E","dx":-20.3,"dy":-1.4},
 "layer":[
  {"data":{"name":"mn"},"transform":[{"filter":"datum.p==='E'"}],"mark":{"type":"tick","thickness":1.5},"encoding":{"x":{"field":"c","type":"nominal","scale":{"type":"band","domain":["mock","CPD6","sCPD3","sCPD4"],"range":[0,70.9],"paddingInner":0,"paddingOuter":0.48},"axis":{"title":"lung titers","titleX":33.4,"titleY":-127.6,"titleAlign":"center","titleBaseline":"alphabetic","titleAnchor":"start","titleFontSize":10.5,"labelAngle":-45}},"y":{"field":"v","type":"quantitative","scale":{"domain":[0,7],"nice":false},"axis":{"title":"log FFU/lung","values":[0,1,2,3,4,5,6,7],"labelOverlap":false}},"color":{"field":"g","type":"nominal","scale":{"domain":["mock","CPD6","sCPD3","sCPD4"],"range":["#2b25f5","#9b28d2","#8c8c8c","#e0409a"]},"legend":null},"size":{"value":13}}},
  {"data":{"name":"pts"},"transform":[{"filter":"datum.p==='E'"}],"mark":{"type":"point","filled":true,"size":24,"opacity":1},"encoding":{"x":{"field":"c","type":"nominal"},"xOffset":{"field":"r","type":"ordinal","scale":{"type":"point","domain":[-12,-11,-10,-9,-8,-7,-6,-5,-4,-3,-2,-1,0,1,2,3,4,5,6,7,8,9,10,11,12],"padding":2}},"y":{"field":"v","type":"quantitative"},"color":{"field":"g","type":"nominal","legend":null},"shape":{"field":"g","type":"nominal","scale":{"domain":["mock","CPD6","sCPD3","sCPD4"],"range":["circle","square","triangle-up","triangle-down"]},"legend":null}}}
 ]},
{"width":225.3,"height":126,"data":{"name":"ts"},"transform":[{"filter":"datum.p==='F'"}],
 "title":{"text":"F","dx":-40,"offset":8.2,"dy":5},
 "layer":[
  {"mark":{"type":"errorbar","ticks":false,"thickness":1.5,"opacity":0.4},"encoding":{"x":{"field":"d","type":"quantitative","scale":{"domain":[0,21.92],"nice":false},"axis":{"title":"Days after vaccination","values":[0,2,4,6,8,10,12,14,16,18,20],"labelOverlap":false}},"y":{"field":"m","type":"quantitative","scale":{"domain":[-15,15],"nice":false},"axis":{"title":"Body weight change (%)","titleFontSize":11,"values":[-15,-10,-5,0,5,10,15],"labelOverlap":false}},"yError":{"field":"s"},"color":{"field":"g","type":"nominal","scale":{"domain":["mock","sCPD9","sCPD10"],"range":["#2b25f5","#5fba2f","#e0231f"]},"legend":{"title":null,"orient":"none","legendX":9,"legendY":-10,"symbolSize":45,"labelOffset":9,"rowPadding":5}}}},
  {"mark":{"type":"line","strokeWidth":1.2},"encoding":{"x":{"field":"d","type":"quantitative"},"y":{"field":"m","type":"quantitative"},"color":{"field":"g","type":"nominal","legend":{"title":null,"orient":"none","legendX":9,"legendY":-10,"symbolSize":45,"labelOffset":9,"rowPadding":5}}}},
  {"mark":{"type":"point","filled":true,"size":40,"opacity":1},"encoding":{"x":{"field":"d","type":"quantitative"},"y":{"field":"m","type":"quantitative"},
    "color":{"field":"g","type":"nominal","legend":{"title":null,"orient":"none","legendX":9,"legendY":-10,"symbolSize":45,"labelOffset":9,"rowPadding":5}},
    "shape":{"field":"g","type":"nominal","scale":{"domain":["mock","sCPD9","sCPD10"],"range":["circle","triangle-up","square"]},"legend":{"title":null,"orient":"none","legendX":9,"legendY":-10,"symbolSize":45,"labelOffset":9,"rowPadding":5}}}}
 ]},
{"width":137,"height":126,"data":{"name":"ts"},"transform":[{"filter":"datum.p==='G'"}],
 "title":{"text":"G","dx":-40.3,"offset":5.6,"dy":5.5},
 "layer":[
  {"mark":{"type":"errorbar","ticks":false,"thickness":1.5,"opacity":0.4},"encoding":{"x":{"field":"d","type":"quantitative","scale":{"domain":[0,14.5],"nice":false},"axis":{"title":"Days after challenge","values":[0,2,4,6,8,10,12,14],"labelOverlap":false}},"y":{"field":"m","type":"quantitative","scale":{"domain":[-15,15],"nice":false},"axis":{"title":"Body weight change (%)","titleFontSize":11,"values":[-15,-10,-5,0,5,10,15],"labelOverlap":false}},"yError":{"field":"s"},"color":{"field":"g","type":"nominal","scale":{"domain":["mock","sCPD9","sCPD10"],"range":["#2b25f5","#5fba2f","#e0231f"]},"legend":{"title":null,"orient":"none","legendX":10,"legendY":-5,"symbolSize":45,"labelOffset":9,"rowPadding":5.5}}}},
  {"mark":{"type":"line","strokeWidth":1.2},"encoding":{"x":{"field":"d","type":"quantitative"},"y":{"field":"m","type":"quantitative"},"color":{"field":"g","type":"nominal","legend":{"title":null,"orient":"none","legendX":10,"legendY":-5,"symbolSize":45,"labelOffset":9,"rowPadding":5.5}}}},
  {"mark":{"type":"point","filled":true,"size":40,"opacity":1},"encoding":{"x":{"field":"d","type":"quantitative"},"y":{"field":"m","type":"quantitative"},
    "color":{"field":"g","type":"nominal","legend":{"title":null,"orient":"none","legendX":10,"legendY":-5,"symbolSize":45,"labelOffset":9,"rowPadding":5.5}},
    "shape":{"field":"g","type":"nominal","scale":{"domain":["mock","sCPD9","sCPD10"],"range":["circle","triangle-up","square"]},"legend":{"title":null,"orient":"none","legendX":10,"legendY":-5,"symbolSize":45,"labelOffset":9,"rowPadding":5.5}}}}
 ]},
{"width":58,"height":126,"title":{"text":"H","dx":-25.3,"dy":7.2},
 "layer":[
  {"data":{"name":"mn"},"transform":[{"filter":"datum.p==='H'"}],"mark":{"type":"tick","thickness":1.5},"encoding":{"x":{"field":"c","type":"nominal","scale":{"type":"band","domain":["mock","sCPD9","sCPD10"],"range":[0,73.3],"paddingInner":0,"paddingOuter":0.46},"axis":{"title":"swab","titleX":34,"titleY":-128.5,"titleAlign":"center","titleBaseline":"alphabetic","titleAnchor":"start","titleFontSize":10.5,"labelAngle":-45}},"y":{"field":"v","type":"quantitative","scale":{"domain":[-1,7],"nice":false},"axis":{"title":"log viral RNA copies/swab","values":[-1,0,1,2,3,4,5,6,7],"labelOverlap":false}},"color":{"field":"g","type":"nominal","scale":{"domain":["mock","sCPD9","sCPD10"],"range":["#2b25f5","#e0231f","#5fba2f"]},"legend":null},"size":{"value":13}}},
  {"data":{"name":"pts"},"transform":[{"filter":"datum.p==='H'"}],"mark":{"type":"point","filled":true,"size":24,"opacity":1},"encoding":{"x":{"field":"c","type":"nominal"},"xOffset":{"field":"r","type":"ordinal","scale":{"type":"point","domain":[-12,-11,-10,-9,-8,-7,-6,-5,-4,-3,-2,-1,0,1,2,3,4,5,6,7,8,9,10,11,12],"padding":2}},"y":{"field":"v","type":"quantitative"},"color":{"field":"g","type":"nominal","legend":null},"shape":{"field":"g","type":"nominal","scale":{"domain":["mock","sCPD9","sCPD10"],"range":["circle","diamond","triangle-up"]},"legend":null}}}
 ]},
{"width":56,"height":126,"title":{"text":"I","dx":-26.3,"dy":7.2},
 "layer":[
  {"data":{"name":"mn"},"transform":[{"filter":"datum.p==='I'"}],"mark":{"type":"tick","thickness":1.5},"encoding":{"x":{"field":"c","type":"nominal","scale":{"type":"band","domain":["mock","sCPD9","sCPD10"],"range":[0,79.4],"paddingInner":0,"paddingOuter":0.59},"axis":{"title":"lungs","titleX":40,"titleY":-128.5,"titleAlign":"center","titleBaseline":"alphabetic","titleAnchor":"start","titleFontSize":10.5,"labelAngle":-45}},"y":{"field":"v","type":"quantitative","scale":{"domain":[-1,7],"nice":false},"axis":{"title":"log viral/10⁵ RPL18 RNA copies","values":[-1,0,1,2,3,4,5,6,7],"labelOverlap":false}},"color":{"field":"g","type":"nominal","scale":{"domain":["mock","sCPD9","sCPD10"],"range":["#2b25f5","#e0231f","#5fba2f"]},"legend":null},"size":{"value":13}}},
  {"data":{"name":"pts"},"transform":[{"filter":"datum.p==='I'"}],"mark":{"type":"point","filled":true,"size":24,"opacity":1},"encoding":{"x":{"field":"c","type":"nominal"},"xOffset":{"field":"r","type":"ordinal","scale":{"type":"point","domain":[-12,-11,-10,-9,-8,-7,-6,-5,-4,-3,-2,-1,0,1,2,3,4,5,6,7,8,9,10,11,12],"padding":2}},"y":{"field":"v","type":"quantitative"},"color":{"field":"g","type":"nominal","legend":null},"shape":{"field":"g","type":"nominal","scale":{"domain":["mock","sCPD9","sCPD10"],"range":["circle","diamond","triangle-up"]},"legend":null}}}
 ]},
{"width":64,"height":126,"title":{"text":"J","dx":-25.3,"dy":7.2},
 "layer":[
  {"data":{"name":"mn"},"transform":[{"filter":"datum.p==='J'"}],"mark":{"type":"tick","thickness":1.5},"encoding":{"x":{"field":"c","type":"nominal","scale":{"type":"band","domain":["mock","sCPD9","sCPD10"],"range":[0,72],"paddingInner":0,"paddingOuter":0.66},"axis":{"title":"lung titers","titleX":34.7,"titleY":-128.5,"titleAlign":"center","titleBaseline":"alphabetic","titleAnchor":"start","titleFontSize":10.5,"labelAngle":-45}},"y":{"field":"v","type":"quantitative","scale":{"domain":[0,7],"nice":false},"axis":{"title":"log FFU/lung","values":[0,1,2,3,4,5,6,7],"labelOverlap":false}},"color":{"field":"g","type":"nominal","scale":{"domain":["mock","sCPD9","sCPD10"],"range":["#2b25f5","#e0231f","#5fba2f"]},"legend":null},"size":{"value":13}}},
  {"data":{"name":"pts"},"transform":[{"filter":"datum.p==='J'"}],"mark":{"type":"point","filled":true,"size":24,"opacity":1},"encoding":{"x":{"field":"c","type":"nominal"},"xOffset":{"field":"r","type":"ordinal","scale":{"type":"point","domain":[-12,-11,-10,-9,-8,-7,-6,-5,-4,-3,-2,-1,0,1,2,3,4,5,6,7,8,9,10,11,12],"padding":2}},"y":{"field":"v","type":"quantitative"},"color":{"field":"g","type":"nominal","legend":null},"shape":{"field":"g","type":"nominal","scale":{"domain":["mock","sCPD9","sCPD10"],"range":["circle","diamond","triangle-up"]},"legend":null}}}
 ]}
]},
{"bounds":"flush","columns":3,"spacing":{"row":80,"column":52},"resolve":{"scale":{"color":"independent","shape":"independent"}},
"concat":[
{"width":190,"height":126,"title":{"text":"K","dx":-41.3,"dy":14.2},
 "layer":[
  {"data":{"name":"mn"},"transform":[{"filter":"datum.p==='K'"}],"mark":{"type":"tick","thickness":1.5,"opacity":0.6},"encoding":{"x":{"field":"c","type":"ordinal","scale":{"type":"band","domain":["2","3","4","5","6","7","14"],"paddingInner":0,"paddingOuter":0.2,"align":0.48},"axis":{"title":"Days after challenge","labelAngle":0,"labelExpr":"(datum.value==='6'||datum.value==='7')?'':datum.label"}},"y":{"field":"v","type":"quantitative","scale":{"domain":[0,7],"nice":false},"axis":{"title":"log viral RNA copies/swab","values":[0,1,2,3,4,5,6,7],"labelOverlap":false}},"color":{"field":"g","type":"nominal","scale":{"domain":["mock","CPD6"],"range":["#2b25f5","#9b28d2"]},"legend":null},"size":{"value":17}}},
  {"data":{"name":"pts"},"transform":[{"filter":"datum.p==='K'"}],"mark":{"type":"point","filled":true,"size":22,"opacity":1},"encoding":{"x":{"field":"c","type":"ordinal"},"xOffset":{"field":"r","type":"ordinal","scale":{"type":"point","domain":[-12,-11,-10,-9,-8,-7,-6,-5,-4,-3,-2,-1,0,1,2,3,4,5,6,7,8,9,10,11,12],"padding":0}},"y":{"field":"v","type":"quantitative"},"color":{"field":"g","type":"nominal","legend":null},"shape":{"field":"g","type":"nominal","scale":{"domain":["mock","CPD6"],"range":["circle","square"]},"legend":null}}},
  {"data":{"name":"sub"},"transform":[{"filter":"datum.p==='K'"}],"mark":{"type":"text","fontSize":10.5,"fontWeight":"bold","baseline":"alphabetic","dy":-16.2,"dx":0.4,"color":"#111"},"encoding":{"x":{"datum":"5"},"y":{"datum":7},"text":{"field":"t"}}}
 ]},
{"width":184,"height":126,"title":{"text":"L","dx":-37.3,"dy":14.2},
 "layer":[
  {"data":{"name":"mn"},"transform":[{"filter":"datum.p==='L'"}],"mark":{"type":"tick","thickness":1.5,"opacity":0.6},"encoding":{"x":{"field":"c","type":"ordinal","scale":{"type":"band","domain":["2","3","4","5","6","7","14"],"paddingInner":0,"paddingOuter":0.084,"align":0.11},"axis":{"title":"Days after challenge","labelAngle":0,"labelExpr":"(datum.value==='6'||datum.value==='7')?'':datum.label"}},"y":{"field":"v","type":"quantitative","scale":{"domain":[0,7],"nice":false},"axis":{"title":"log viral/10⁵ RPL18 RNA copies","values":[0,1,2,3,4,5,6,7],"labelOverlap":false}},"color":{"field":"g","type":"nominal","scale":{"domain":["mock","CPD6"],"range":["#2b25f5","#9b28d2"]},"legend":null},"size":{"value":17}}},
  {"data":{"name":"pts"},"transform":[{"filter":"datum.p==='L'"}],"mark":{"type":"point","filled":true,"size":22,"opacity":1},"encoding":{"x":{"field":"c","type":"ordinal"},"xOffset":{"field":"r","type":"ordinal","scale":{"type":"point","domain":[-12,-11,-10,-9,-8,-7,-6,-5,-4,-3,-2,-1,0,1,2,3,4,5,6,7,8,9,10,11,12],"padding":0}},"y":{"field":"v","type":"quantitative"},"color":{"field":"g","type":"nominal","legend":null},"shape":{"field":"g","type":"nominal","scale":{"domain":["mock","CPD6"],"range":["circle","square"]},"legend":null}}},
  {"data":{"name":"sub"},"transform":[{"filter":"datum.p==='L'"}],"mark":{"type":"text","fontSize":10.5,"fontWeight":"bold","baseline":"alphabetic","dy":-16.2,"dx":0.4,"color":"#111"},"encoding":{"x":{"datum":"5"},"y":{"datum":7},"text":{"field":"t"}}}
 ]},
{"width":188,"height":126,"title":{"text":"M","dx":-28,"dy":14.2},
 "layer":[
  {"data":{"name":"mn"},"transform":[{"filter":"datum.p==='M'"}],"mark":{"type":"tick","thickness":1.5,"opacity":0.6},"encoding":{"x":{"field":"c","type":"ordinal","scale":{"type":"band","domain":["2","3","4","5"],"paddingInner":0,"paddingOuter":0.173},"axis":{"title":"Days after challenge","labelAngle":0,"labelExpr":"datum.value==='4'?'':datum.label"}},"y":{"field":"v","type":"quantitative","scale":{"domain":[0,8],"nice":false},"axis":{"title":"log FFU/lung","values":[0,1,2,3,4,5,6,7,8],"labelOverlap":false}},"color":{"field":"g","type":"nominal","scale":{"domain":["mock","CPD6"],"range":["#2b25f5","#9b28d2"]},"legend":{"title":null,"orient":"none","legendX":179,"legendY":-4,"symbolSize":25,"labelOffset":10,"rowPadding":5,"labelFontSize":9.5}},"size":{"value":29}}},
  {"data":{"name":"pts"},"transform":[{"filter":"datum.p==='M'"}],"mark":{"type":"point","filled":true,"size":22,"opacity":1},"encoding":{"x":{"field":"c","type":"ordinal"},"xOffset":{"field":"r","type":"ordinal","scale":{"type":"point","domain":[-12,-11,-10,-9,-8,-7,-6,-5,-4,-3,-2,-1,0,1,2,3,4,5,6,7,8,9,10,11,12],"padding":6}},"y":{"field":"v","type":"quantitative"},
    "color":{"field":"g","type":"nominal","legend":{"title":null,"orient":"none","legendX":179,"legendY":-4,"symbolSize":25,"labelOffset":10,"rowPadding":5,"labelFontSize":9.5}},
    "shape":{"field":"g","type":"nominal","scale":{"domain":["mock","CPD6"],"range":["circle","square"]},"legend":{"title":null,"orient":"none","legendX":179,"legendY":-4,"symbolSize":25,"labelOffset":10,"rowPadding":5,"labelFontSize":9.5}}}},
  {"data":{"name":"sub"},"transform":[{"filter":"datum.p==='M'"}],"mark":{"type":"text","fontSize":10.5,"fontWeight":"bold","baseline":"alphabetic","dy":-16.2,"dx":21.8,"color":"#111"},"encoding":{"x":{"datum":"3"},"y":{"datum":8},"text":{"field":"t"}}}
 ]},
{"width":190,"height":126,"title":{"text":"N","dx":-39.7,"dy":13},
 "layer":[
  {"data":{"name":"mn"},"transform":[{"filter":"datum.p==='N'"}],"mark":{"type":"tick","thickness":1.5,"opacity":0.6},"encoding":{"x":{"field":"c","type":"ordinal","scale":{"type":"band","domain":["2","3","4","5","6","7","14"],"paddingInner":0,"paddingOuter":0.2,"align":0.48},"axis":{"title":"Days after challenge","labelAngle":0,"labelExpr":"(datum.value==='6'||datum.value==='7')?'':datum.label"}},"y":{"field":"v","type":"quantitative","scale":{"domain":[0,7],"nice":false},"axis":{"title":"log viral RNA copies/swab","values":[0,1,2,3,4,5,6,7],"labelOverlap":false}},"color":{"field":"g","type":"nominal","scale":{"domain":["mock","sCPD9","sCPD10"],"range":["#2b25f5","#e0231f","#5fba2f"]},"legend":null},"size":{"value":17}}},
  {"data":{"name":"pts"},"transform":[{"filter":"datum.p==='N'"}],"mark":{"type":"point","filled":true,"size":22,"opacity":1},"encoding":{"x":{"field":"c","type":"ordinal"},"xOffset":{"field":"r","type":"ordinal","scale":{"type":"point","domain":[-12,-11,-10,-9,-8,-7,-6,-5,-4,-3,-2,-1,0,1,2,3,4,5,6,7,8,9,10,11,12],"padding":0}},"y":{"field":"v","type":"quantitative"},"color":{"field":"g","type":"nominal","legend":null},"shape":{"field":"g","type":"nominal","scale":{"domain":["mock","sCPD9","sCPD10"],"range":["circle","diamond","triangle-up"]},"legend":null}}},
  {"data":{"name":"ast"},"transform":[{"filter":"datum.p==='N'"}],"mark":{"type":"text","fontSize":15,"fontWeight":"bold","baseline":"middle","dy":4},"encoding":{"x":{"field":"c","type":"ordinal"},"y":{"field":"v","type":"quantitative"},"text":{"field":"t"}}},
  {"data":{"name":"sub"},"transform":[{"filter":"datum.p==='N'"}],"mark":{"type":"text","fontSize":10.5,"fontWeight":"bold","baseline":"alphabetic","dy":-15.5,"dx":0.4,"color":"#111"},"encoding":{"x":{"datum":"5"},"y":{"datum":7},"text":{"field":"t"}}}
 ]},
{"width":184,"height":126,"title":{"text":"O","dx":-40,"dy":13},
 "layer":[
  {"data":{"name":"mn"},"transform":[{"filter":"datum.p==='O'"}],"mark":{"type":"tick","thickness":1.5,"opacity":0.6},"encoding":{"x":{"field":"c","type":"ordinal","scale":{"type":"band","domain":["2","3","4","5","6","7","14"],"paddingInner":0,"paddingOuter":0.084,"align":0.11},"axis":{"title":"Days after challenge","labelAngle":0,"labelExpr":"(datum.value==='6'||datum.value==='7')?'':datum.label"}},"y":{"field":"v","type":"quantitative","scale":{"domain":[0,7],"nice":false},"axis":{"title":"log viral/10⁵ RPL18 RNA copies","values":[0,1,2,3,4,5,6,7],"labelOverlap":false}},"color":{"field":"g","type":"nominal","scale":{"domain":["mock","sCPD9","sCPD10"],"range":["#2b25f5","#e0231f","#5fba2f"]},"legend":null},"size":{"value":17}}},
  {"data":{"name":"pts"},"transform":[{"filter":"datum.p==='O'"}],"mark":{"type":"point","filled":true,"size":22,"opacity":1},"encoding":{"x":{"field":"c","type":"ordinal"},"xOffset":{"field":"r","type":"ordinal","scale":{"type":"point","domain":[-12,-11,-10,-9,-8,-7,-6,-5,-4,-3,-2,-1,0,1,2,3,4,5,6,7,8,9,10,11,12],"padding":0}},"y":{"field":"v","type":"quantitative"},"color":{"field":"g","type":"nominal","legend":null},"shape":{"field":"g","type":"nominal","scale":{"domain":["mock","sCPD9","sCPD10"],"range":["circle","diamond","triangle-up"]},"legend":null}}},
  {"data":{"name":"ast"},"transform":[{"filter":"datum.p==='O'"}],"mark":{"type":"text","fontSize":15,"fontWeight":"bold","baseline":"middle","dy":4},"encoding":{"x":{"field":"c","type":"ordinal"},"y":{"field":"v","type":"quantitative"},"text":{"field":"t"}}},
  {"data":{"name":"sub"},"transform":[{"filter":"datum.p==='O'"}],"mark":{"type":"text","fontSize":10.5,"fontWeight":"bold","baseline":"alphabetic","dy":-15.5,"dx":0.4,"color":"#111"},"encoding":{"x":{"datum":"5"},"y":{"datum":7},"text":{"field":"t"}}}
 ]},
{"width":188,"height":126,"title":{"text":"P","dx":-28,"dy":13},
 "layer":[
  {"data":{"name":"mn"},"transform":[{"filter":"datum.p==='P'"}],"mark":{"type":"tick","thickness":1.5,"opacity":0.6},"encoding":{"x":{"field":"c","type":"ordinal","scale":{"type":"band","domain":["2","3","4","5"],"paddingInner":0,"paddingOuter":0.173},"axis":{"title":"Days after challenge","labelAngle":0}},"y":{"field":"v","type":"quantitative","scale":{"domain":[0,8],"nice":false},"axis":{"title":"log FFU/lung","values":[0,1,2,3,4,5,6,7,8],"labelOverlap":false}},"color":{"field":"g","type":"nominal","scale":{"domain":["mock","sCPD9","sCPD10"],"range":["#2b25f5","#e0231f","#5fba2f"]},"legend":{"title":null,"orient":"none","legendX":172,"legendY":-4,"symbolSize":25,"labelOffset":12,"rowPadding":6,"labelFontSize":9.5}},"size":{"value":29}}},
  {"data":{"name":"pts"},"transform":[{"filter":"datum.p==='P'"}],"mark":{"type":"point","filled":true,"size":22,"opacity":1},"encoding":{"x":{"field":"c","type":"ordinal"},"xOffset":{"field":"r","type":"ordinal","scale":{"type":"point","domain":[-12,-11,-10,-9,-8,-7,-6,-5,-4,-3,-2,-1,0,1,2,3,4,5,6,7,8,9,10,11,12],"padding":6}},"y":{"field":"v","type":"quantitative"},
    "color":{"field":"g","type":"nominal","legend":{"title":null,"orient":"none","legendX":172,"legendY":-4,"symbolSize":25,"labelOffset":12,"rowPadding":6,"labelFontSize":9.5}},
    "shape":{"field":"g","type":"nominal","scale":{"domain":["mock","sCPD9","sCPD10"],"range":["circle","diamond","triangle-up"]},"legend":{"title":null,"orient":"none","legendX":172,"legendY":-4,"symbolSize":25,"labelOffset":12,"rowPadding":6,"labelFontSize":9.5}}}},
  {"data":{"name":"ast"},"transform":[{"filter":"datum.p==='P'"}],"mark":{"type":"text","fontSize":15,"fontWeight":"bold","baseline":"middle","dy":4},"encoding":{"x":{"field":"c","type":"ordinal"},"y":{"field":"v","type":"quantitative"},"text":{"field":"t"}}},
  {"data":{"name":"sub"},"transform":[{"filter":"datum.p==='P'"}],"mark":{"type":"text","fontSize":10.5,"fontWeight":"bold","baseline":"alphabetic","dy":-15.5,"dx":21.8,"color":"#111"},"encoding":{"x":{"datum":"3"},"y":{"datum":8},"text":{"field":"t"}}}
 ]}
]}
]
}
